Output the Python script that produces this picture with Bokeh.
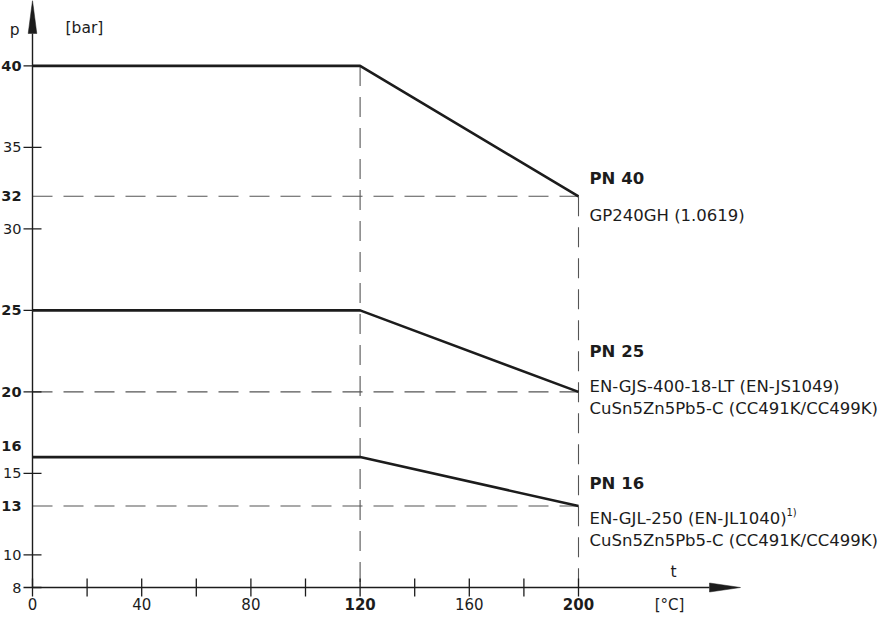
from bokeh.plotting import figure
from bokeh.models import Range1d
from bokeh.embed import file_html
from bokeh.resources import INLINE
from bokeh.core.properties import value
import math

# ---------------- data ----------------
temps = [0, 120, 200]
pn40 = [40, 40, 32]
pn25 = [25, 25, 20]
pn16 = [16, 16, 13]
series_names = ["PN 40", "PN 25", "PN 16"]
materials_40 = ["GP240GH (1.0619)"]
materials_25 = ["EN-GJS-400-18-LT (EN-JS1049)", "CuSn5Zn5Pb5-C (CC491K/CC499K)"]
materials_16 = ["EN-GJL-250 (EN-JL1040)", "CuSn5Zn5Pb5-C (CC491K/CC499K)"]
footnote = "1)"
y_ticks_marked = [8, 10, 15, 20, 25, 30, 35, 40]
y_labels_normal = [8, 10, 15, 30, 35]
y_labels_bold = [13, 20, 25, 32, 40]
y_label_raised = [16]
x_ticks = [0, 20, 40, 60, 80, 100, 120, 140, 160, 180, 200]
x_labels_normal = [0, 40, 80, 160]
x_labels_bold = [120, 200]
x_min, y_min = 0, 8
y_name, y_unit = "p", "[bar]"
x_name, x_unit = "t", "[°C]"

# ---------------- layout constants ----------------
W, H = 880, 614
XS, YS = 2.73, 16.3          # px per unit
X0_PX, Y8_PX = 32, 587       # canvas-pixel position of the origin
X_AXIS_LEN_PX = 708
FONT = value("DejaVu Sans")
INK = "#1c1c1c"
DASH_C = "#555555"

p = figure(width=W, height=H, output_backend="svg", toolbar_location=None,
           x_axis_location=None, y_axis_location=None,
           x_range=Range1d(x_min - X0_PX / XS, x_min + (W - X0_PX) / XS),
           y_range=Range1d(y_min - (H - Y8_PX) / YS, y_min + Y8_PX / YS),
           min_border=0)
p.grid.visible = False
p.outline_line_color = None
p.background_fill_color = "white"
p.border_fill_color = "white"

x_end = 200
y_top = p.y_range.end
x_tip = x_min + X_AXIS_LEN_PX / XS

# dashed guide lines
for s in (pn40, pn25, pn16):
    p.line([x_min, x_end], [s[-1], s[-1]], line_color=DASH_C, line_width=1.1, line_dash="20 11")
p.line([temps[1], temps[1]], [max(pn40), y_min], line_color=DASH_C, line_width=1.1, line_dash="20 11")
p.line([temps[2], temps[2]], [pn40[-1], y_min], line_color=DASH_C, line_width=1.1, line_dash="20 11")

# pressure-temperature curves
for s in (pn40, pn25, pn16):
    p.line(temps, s, line_color=INK, line_width=2.6)

# axes with arrow heads
head_len_y, head_hw_y = 33 / YS, 4.3 / XS
head_len_x, head_hw_x = 31 / XS, 4.5 / YS
p.line([x_min, x_min], [y_min, y_top - head_len_y], line_color=INK, line_width=1.4)
p.line([x_min, x_tip - head_len_x], [y_min, y_min], line_color=INK, line_width=1.4)
p.patch([x_min - head_hw_y, x_min, x_min + head_hw_y],
        [y_top - head_len_y, y_top, y_top - head_len_y], color=INK, line_width=0.5)
p.patch([x_tip - head_len_x, x_tip, x_tip - head_len_x],
        [y_min - head_hw_x, y_min, y_min + head_hw_x], color=INK, line_width=0.5)

# tick marks
p.scatter([x_min] * len(y_ticks_marked), y_ticks_marked, marker="dash", size=18,
          line_color=INK, line_width=1.3)
p.scatter(x_ticks, [y_min] * len(x_ticks), marker="dash", size=18, angle=math.pi / 2,
          line_color=INK, line_width=1.3)

# tick labels
tick_kw = dict(text_font=FONT, text_font_size="14.5px", text_color=INK)
p.text([x_min] * len(y_labels_normal), y_labels_normal, text=[str(v) for v in y_labels_normal],
       x_offset=-11, text_align="right", text_baseline="middle", **tick_kw)
p.text([x_min] * len(y_labels_bold), y_labels_bold, text=[str(v) for v in y_labels_bold],
       x_offset=-11, text_align="right", text_baseline="middle", text_font_style="bold", **tick_kw)
p.text([x_min] * len(y_label_raised), y_label_raised, text=[str(v) for v in y_label_raised],
       x_offset=-11, y_offset=-11, text_align="right", text_baseline="middle",
       text_font_style="bold", **tick_kw)
xt_kw = dict(text_font=FONT, text_font_size="15px", text_color=INK)
p.text(x_labels_normal, [y_min] * len(x_labels_normal), text=[str(v) for v in x_labels_normal],
       y_offset=10, text_align="center", text_baseline="top", **xt_kw)
p.text(x_labels_bold, [y_min] * len(x_labels_bold), text=[str(v) for v in x_labels_bold],
       y_offset=10, text_align="center", text_baseline="top", text_font_style="bold", **xt_kw)

# axis names / units
name_kw = dict(text_font=FONT, text_font_size="15.5px", text_color=INK)
p.text([x_min], [max(pn40)], text=[y_name], x_offset=-13, y_offset=-36,
       text_align="right", text_baseline="middle", **name_kw)
p.text([x_min], [max(pn40)], text=[y_unit], x_offset=33, y_offset=-38,
       text_align="left", text_baseline="middle", **name_kw)
p.text([x_end], [y_min], text=[x_name], x_offset=95, y_offset=-16,
       text_align="center", text_baseline="middle", **name_kw)
p.text([x_end], [y_min], text=[x_unit], x_offset=91, y_offset=8,
       text_align="center", text_baseline="top", **xt_kw)

# series annotations
ann_kw = dict(text_font=FONT, text_font_size="16.5px", text_color=INK,
              text_align="left", text_baseline="middle", x_offset=11)
def annotate(level, name, mats, name_dy, first_dy):
    p.text([x_end], [level], text=[name], y_offset=name_dy, text_font_style="bold", **ann_kw)
    for i, m in enumerate(mats):
        p.text([x_end], [level], text=[m], y_offset=first_dy + 22 * i, **ann_kw)

annotate(pn40[-1], series_names[0], materials_40, -18, 19)
annotate(pn25[-1], series_names[1], materials_25, -40, -5)
annotate(pn16[-1], series_names[2], materials_16, -23, 12)
p.text([x_end], [pn16[-1]], text=[footnote], x_offset=11 + 197, y_offset=6,
       text_font=FONT, text_font_size="10px", text_color=INK,
       text_align="left", text_baseline="middle")

open("out.html", "w").write(file_html(p, INLINE))
